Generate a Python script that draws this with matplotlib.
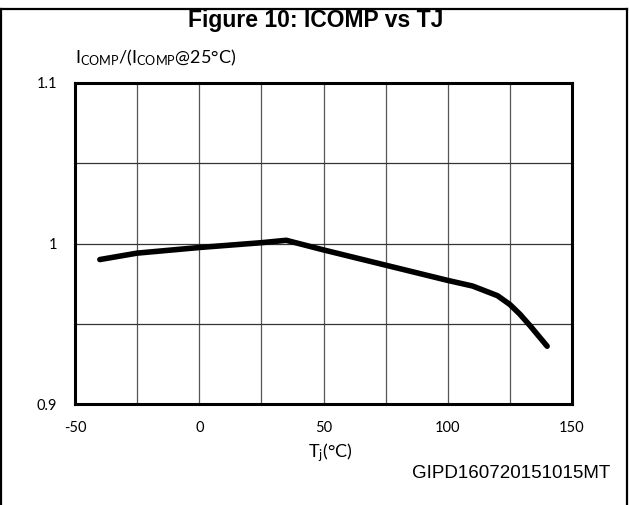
import matplotlib
matplotlib.use("Agg")
import matplotlib.pyplot as plt
from matplotlib.lines import Line2D

# Data
tj = [-40, -25, 0, 25, 35, 50, 75, 100, 110, 120, 125, 129, 133, 140]
icomp_ratio = [0.990, 0.994, 0.9975, 1.0005, 1.002, 0.996, 0.9865, 0.977, 0.9735, 0.9675,
               0.962, 0.956, 0.949, 0.936]
x_ticks = [-50, 0, 50, 100, 150]
x_tick_labels = ["-50", "0", "50", "100", "150"]
y_ticks = [0.9, 1.0, 1.1]
y_tick_labels = ["0.9", "1", "1.1"]
x_grid = [-25, 0, 25, 50, 75, 100, 125]
y_grid = [0.95, 1.0, 1.05]

plt.rcParams['font.family'] = ['Lato', 'DejaVu Sans']
plt.rcParams['mathtext.fontset'] = 'custom'
plt.rcParams['mathtext.rm'] = 'Lato'
plt.rcParams['mathtext.it'] = 'Lato'

W, H = 629, 505
fig = plt.figure(figsize=(W / 100, H / 100), dpi=100)

ax = fig.add_axes([75 / W, 1 - 404 / H, (572 - 75) / W, (404 - 83) / H])
ax.set_xlim(-50, 150)
ax.set_ylim(0.9, 1.1)

for xv in x_grid:
    ax.axvline(xv, color='#555555', lw=0.9, zorder=1)
for yv in y_grid:
    ax.axhline(yv, color='#333333', lw=0.9, zorder=1)

ax.plot(tj, icomp_ratio, color='black', lw=4.0, solid_capstyle='round',
        solid_joinstyle='round', zorder=3)

ax.set_xticks(x_ticks)
ax.set_xticklabels(x_tick_labels, fontsize=10.5)
ax.set_yticks(y_ticks)
ax.set_yticklabels(y_tick_labels, fontsize=10.5)
ax.tick_params(length=0)
ax.tick_params(axis='x', pad=12.5)
ax.tick_params(axis='y', pad=13)
for s in ax.spines.values():
    s.set_linewidth(2.2)
    s.set_color('black')

# Texts
fig.text(316 / W, 1 - 20 / H, "Figure 10: ICOMP vs TJ", ha='center', va='center',
         fontsize=16.5, fontweight='bold', family=['Liberation Sans', 'DejaVu Sans'])
fig.text(75 / W, 1 - 58 / H, r"I$_{\mathrm{COMP}}$/(I$_{\mathrm{COMP}}$@25°C)",
         ha='left', va='center', fontsize=13)
fig.text(330 / W, 1 - 453 / H, r"T$_{\mathrm{j}}$(°C)", ha='center', va='center', fontsize=13)
fig.text(610 / W, 1 - 473 / H, "GIPD160720151015MT", ha='right', va='center',
         fontsize=13.5, family=['Liberation Sans', 'DejaVu Sans'])

# Border lines (open at bottom)
fig.add_artist(Line2D([1 / W, 627 / W], [1 - 9 / H, 1 - 9 / H], transform=fig.transFigure, color='black', lw=1.6))
fig.add_artist(Line2D([1 / W, 1 / W], [0, 1 - 9 / H], transform=fig.transFigure, color='black', lw=1.6))
fig.add_artist(Line2D([627 / W, 627 / W], [0, 1 - 9 / H], transform=fig.transFigure, color='black', lw=1.6))

fig.savefig("out.png", dpi=100)
